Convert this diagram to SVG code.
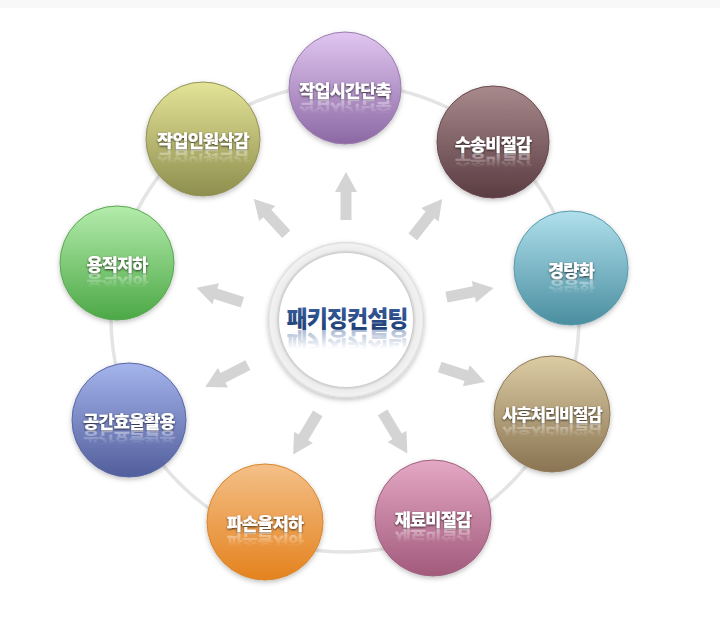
<svg xmlns="http://www.w3.org/2000/svg" width="720" height="636" viewBox="0 0 720 636">
<defs>
<style>
.lbl{font-family:"Noto Sans CJK KR","Noto Sans CJK SC",sans-serif;font-weight:900;font-size:17.5px;fill:#fff;text-anchor:middle;letter-spacing:-0.8px}
.refl{font-family:"Noto Sans CJK KR","Noto Sans CJK SC",sans-serif;font-weight:900;font-size:17.5px;fill:url(#rf);text-anchor:middle;letter-spacing:-0.8px}
.sm{font-size:16.5px;letter-spacing:-1px}
.arr{fill:#d4d4d4}
.node circle{stroke-width:1}
</style>
<filter id="ts" x="-20%" y="-40%" width="140%" height="180%">
<feDropShadow dx="0" dy="1" stdDeviation="1" flood-color="#000" flood-opacity="0.75"/>
</filter>
<filter id="cs" x="-20%" y="-20%" width="140%" height="140%">
<feDropShadow dx="0" dy="2" stdDeviation="2.5" flood-color="#000" flood-opacity="0.25"/>
</filter>
<linearGradient id="rf" x1="0" y1="0" x2="0" y2="1">
<stop offset="0.3" stop-color="#fff" stop-opacity="0"/>
<stop offset="1" stop-color="#fff" stop-opacity="0.6"/>
</linearGradient>
<linearGradient id="rfc" x1="0" y1="0" x2="0" y2="1">
<stop offset="0.3" stop-color="#3a5c98" stop-opacity="0"/>
<stop offset="1" stop-color="#3a5c98" stop-opacity="0.55"/>
</linearGradient>
<linearGradient id="ct" x1="0" y1="0" x2="0" y2="1">
<stop offset="0" stop-color="#3e64a4"/>
<stop offset="1" stop-color="#1c3a70"/>
</linearGradient>
<linearGradient id="g1" x1="0" y1="0" x2="0" y2="1"><stop offset="0" stop-color="#e0c6f0"/><stop offset="1" stop-color="#8c68a4"/></linearGradient>
<linearGradient id="g2" x1="0" y1="0" x2="0" y2="1"><stop offset="0" stop-color="#a88a8c"/><stop offset="1" stop-color="#5a3c42"/></linearGradient>
<linearGradient id="g3" x1="0" y1="0" x2="0" y2="1"><stop offset="0" stop-color="#b0e0ec"/><stop offset="1" stop-color="#4a8ea0"/></linearGradient>
<linearGradient id="g4" x1="0" y1="0" x2="0" y2="1"><stop offset="0" stop-color="#dccca4"/><stop offset="1" stop-color="#8a7452"/></linearGradient>
<linearGradient id="g5" x1="0" y1="0" x2="0" y2="1"><stop offset="0" stop-color="#e4a8c4"/><stop offset="1" stop-color="#a25a7c"/></linearGradient>
<linearGradient id="g6" x1="0" y1="0" x2="0" y2="1"><stop offset="0" stop-color="#f4c088"/><stop offset="1" stop-color="#e4821e"/></linearGradient>
<linearGradient id="g7" x1="0" y1="0" x2="0" y2="1"><stop offset="0" stop-color="#a4b4ec"/><stop offset="1" stop-color="#525e9c"/></linearGradient>
<linearGradient id="g8" x1="0" y1="0" x2="0" y2="1"><stop offset="0" stop-color="#b4ecac"/><stop offset="1" stop-color="#4ca846"/></linearGradient>
<linearGradient id="g9" x1="0" y1="0" x2="0" y2="1"><stop offset="0" stop-color="#e4e498"/><stop offset="1" stop-color="#8e8e4e"/></linearGradient>
<radialGradient id="ring" cx="0.5" cy="0.5" r="0.5">
<stop offset="0.86" stop-color="#c8c8c8"/>
<stop offset="0.9" stop-color="#ececec"/>
<stop offset="0.97" stop-color="#f2f2f2"/>
<stop offset="1" stop-color="#d8d8d8"/>
</radialGradient>
<path id="ar" d="M0,-24 L11,-4 L5.5,-4 L5.5,24 L-5.5,24 L-5.5,-4 L-11,-4 Z"/>
</defs>
<rect width="720" height="636" fill="#fff"/>
<rect width="720" height="8" fill="#f8f8f8"/>
<g id="connectors">
<circle cx="345" cy="318" r="234" fill="none" stroke="#e4e4e4" stroke-width="3.5"/>
<use href="#ar" class="arr" transform="translate(346,196) rotate(0)"/>
<use href="#ar" class="arr" transform="translate(427.5,218) rotate(37.8)"/>
<use href="#ar" class="arr" transform="translate(470,292.5) rotate(78.9)"/>
<use href="#ar" class="arr" transform="translate(462.5,374.5) rotate(108.4)"/>
<use href="#ar" class="arr" transform="translate(395,433) rotate(149)"/>
<use href="#ar" class="arr" transform="translate(305.5,434) rotate(210.8)"/>
<use href="#ar" class="arr" transform="translate(226.5,376) rotate(243)"/>
<use href="#ar" class="arr" transform="translate(219.5,295) rotate(287.3)"/>
<use href="#ar" class="arr" transform="translate(270,216.5) rotate(317.4)"/>
</g>
<g id="center">
<circle cx="346" cy="320" r="78" fill="url(#ring)" filter="url(#cs)"/>
<circle cx="346" cy="320" r="67" fill="#fff"/>
<text x="347" y="327" font-family="'Noto Sans CJK KR',sans-serif" font-weight="900" font-size="23" fill="url(#ct)" text-anchor="middle" letter-spacing="-1">패키징컨설팅</text>
<text x="347" y="-332" transform="scale(1,-1)" font-family="'Noto Sans CJK KR',sans-serif" font-weight="900" font-size="23" fill="url(#rfc)" text-anchor="middle" letter-spacing="-1">패키징컨설팅</text>
</g>
<g id="n1" class="node">
<circle cx="345" cy="88" r="56" fill="url(#g1)" stroke="#9a7cae" filter="url(#cs)"/>
<text class="lbl" x="345" y="97" filter="url(#ts)">작업시간단축</text>
<text class="refl" x="345" y="-101" transform="scale(1,-1)">작업시간단축</text>
</g>
<g id="n2" class="node">
<circle cx="493" cy="142" r="56" fill="url(#g2)" stroke="#6a4a50" filter="url(#cs)"/>
<text class="lbl" x="493" y="151" filter="url(#ts)">수송비절감</text>
<text class="refl" x="493" y="-155" transform="scale(1,-1)">수송비절감</text>
</g>
<g id="n3" class="node">
<circle cx="571" cy="268" r="57" fill="url(#g3)" stroke="#5a9aac" filter="url(#cs)"/>
<text class="lbl" x="571" y="277" filter="url(#ts)">경량화</text>
<text class="refl" x="571" y="-281" transform="scale(1,-1)">경량화</text>
</g>
<g id="n4" class="node">
<circle cx="552" cy="414" r="58" fill="url(#g4)" stroke="#8e7a5a" filter="url(#cs)"/>
<text class="lbl sm" x="552" y="421" filter="url(#ts)">사후처리비절감</text>
<text class="refl sm" x="552" y="-425" transform="scale(1,-1)">사후처리비절감</text>
</g>
<g id="n5" class="node">
<circle cx="433" cy="518" r="58" fill="url(#g5)" stroke="#a06080" filter="url(#cs)"/>
<text class="lbl" x="433" y="526" filter="url(#ts)">재료비절감</text>
<text class="refl" x="433" y="-530" transform="scale(1,-1)">재료비절감</text>
</g>
<g id="n6" class="node">
<circle cx="265" cy="522" r="58" fill="url(#g6)" stroke="#d8862e" filter="url(#cs)"/>
<text class="lbl" x="265" y="530" filter="url(#ts)">파손율저하</text>
<text class="refl" x="265" y="-534" transform="scale(1,-1)">파손율저하</text>
</g>
<g id="n7" class="node">
<circle cx="129" cy="420" r="57" fill="url(#g7)" stroke="#5a66a4" filter="url(#cs)"/>
<text class="lbl" x="129" y="428" filter="url(#ts)">공간효율활용</text>
<text class="refl" x="129" y="-432" transform="scale(1,-1)">공간효율활용</text>
</g>
<g id="n8" class="node">
<circle cx="117" cy="263" r="57" fill="url(#g8)" stroke="#58a850" filter="url(#cs)"/>
<text class="lbl" x="117" y="271" filter="url(#ts)">용적저하</text>
<text class="refl" x="117" y="-275" transform="scale(1,-1)">용적저하</text>
</g>
<g id="n9" class="node">
<circle cx="203" cy="139" r="57" fill="url(#g9)" stroke="#929258" filter="url(#cs)"/>
<text class="lbl" x="203" y="147" filter="url(#ts)">작업인원삭감</text>
<text class="refl" x="203" y="-151" transform="scale(1,-1)">작업인원삭감</text>
</g>
</svg>
